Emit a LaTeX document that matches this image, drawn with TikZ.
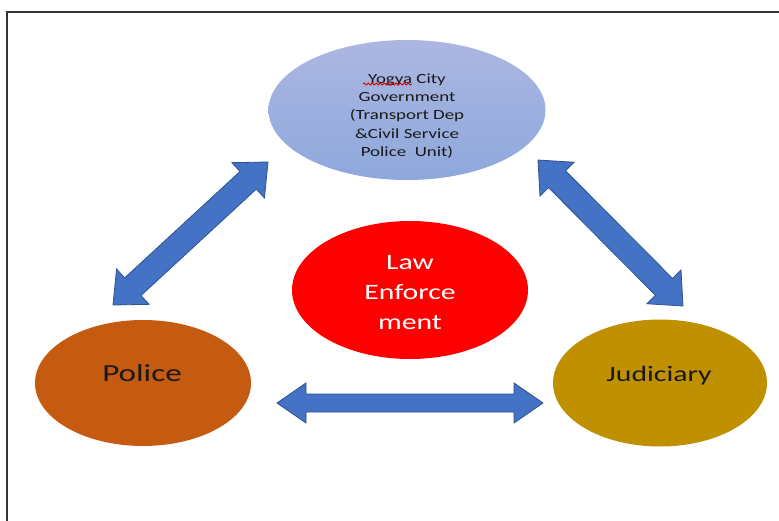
\documentclass[tikz,border=0pt]{standalone}
\usepackage{fontspec}
\setmainfont{Carlito}
\newfontfamily\wf[FakeStretch=1.35]{Carlito}
\usetikzlibrary{calc,decorations.pathmorphing,shapes.geometric}
\definecolor{arrowfill}{HTML}{4472C4}
\definecolor{arrowline}{HTML}{2F528F}
\definecolor{topA}{RGB}{172,183,225}
\definecolor{topB}{RGB}{142,168,220}
\definecolor{lawred}{HTML}{FF0000}
\definecolor{policec}{HTML}{C55A11}
\definecolor{judic}{HTML}{BF9000}
\newcommand\mydblarrow[5]{% A, B, head length, head half width, shaft half width
  \coordinate (#1#2a) at ($(#1)!#3!(#2)$);
  \coordinate (#1#2b) at ($(#2)!#3!(#1)$);
  \draw[blockarrow] (#1) -- ($(#1#2a)!#4!90:(#2)$) -- ($(#1#2a)!#5!90:(#2)$)
    -- ($(#1#2b)!#5!-90:(#1)$) -- ($(#1#2b)!#4!-90:(#1)$) -- (#2)
    -- ($(#1#2b)!#4!90:(#1)$) -- ($(#1#2b)!#5!90:(#1)$)
    -- ($(#1#2a)!#5!-90:(#2)$) -- ($(#1#2a)!#4!-90:(#2)$) -- cycle;}
\tikzset{
  blob/.style={ellipse, inner sep=0pt},
  blockarrow/.style={fill=arrowfill, draw=arrowline, line width=0.8pt, line join=miter},
}
\begin{document}
\begin{tikzpicture}[x=1pt,y=-1pt]
\useasboundingbox (0,0) rectangle (779,521);
\fill[white] (0,0) rectangle (779,521);
\draw[line width=1.3pt, black!80] (7,521) -- (7,12) -- (779,12);
% circles
\node[blob, minimum width=277pt, minimum height=140pt, top color=topA, bottom color=topB] (top) at (407,110) {};
\node[align=center, text=black!90, font=\wf\fontsize{14}{18.3}\selectfont] (toptext) at (407,116)
  {Yogya City\\Government\\(Transport Dep\\\&Civil Service\\Police~ Unit)};
\draw[red!85!black, line width=0.8pt, decorate, decoration={snake, amplitude=1.1pt, segment length=4pt}] (363,84) -- (412,84);
\node[blob, fill=lawred, minimum width=236pt, minimum height=138pt] (law) at (410,290) {};
\node[align=center, text=white, font=\wf\fontsize{22}{30}\selectfont] (lawtext) at (410,293) {Law\\Enforce\\ment};
\node[blob, fill=policec, minimum width=216pt, minimum height=126pt] (police) at (143,383) {};
\node[font=\wf\fontsize{24.5}{28}\selectfont, text=black!90] (policetext) at (142,373) {Police};
\node[blob, fill=judic, minimum width=214pt, minimum height=127pt] (judi) at (660,383) {};
\node[font=\wf\fontsize{22}{26}\selectfont, text=black!90] (juditext) at (659,376) {Judiciary};
% arrows
\coordinate (pl) at (113,305);
\coordinate (pt) at (268,162);
\coordinate (jt) at (538,160);
\coordinate (jl) at (683,306);
\coordinate (hl) at (277,403);
\coordinate (hr) at (543,403);
\mydblarrow{pl}{pt}{27pt}{24pt}{12pt}
\mydblarrow{jt}{jl}{27pt}{24pt}{12pt}
\mydblarrow{hl}{hr}{29pt}{20pt}{9pt}
\end{tikzpicture}
\end{document}
